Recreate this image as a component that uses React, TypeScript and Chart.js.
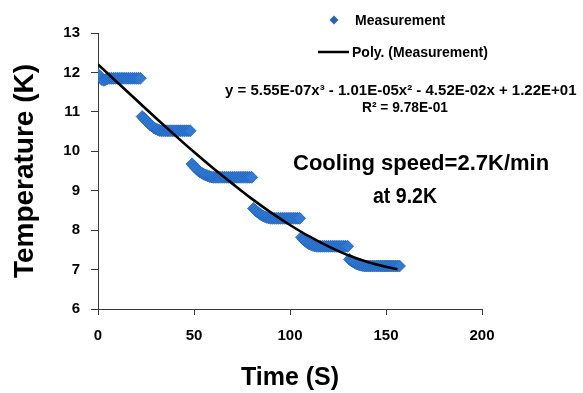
import React, { useEffect, useRef } from "react";
import { Chart, registerables } from "chart.js";

Chart.register(...registerables);

// ---- data ----
const timeS = [
  0, 1, 2, 3, 4, 5, 6, 7, 8, 9, 10, 11, 12, 13, 14, 15, 16, 17, 18, 19, 20, 21, 22,
  23, 24, 25, 26, 27, 28, 29, 30, 31, 32, 33, 34, 35, 36, 37, 38, 39, 40, 41, 42, 43, 44, 45, 46, 47, 48,
  49, 50, 51, 52, 53, 54, 55, 56, 57, 58, 59, 60, 61, 62, 63, 64, 65, 66, 67, 68, 69, 70, 71, 72, 73, 74, 75, 76, 77, 78, 79, 80,
  81, 82, 83, 84, 85, 86, 87, 88, 89, 90, 91, 92, 93, 94, 95, 96, 97, 98, 99, 100, 101, 102, 103, 104, 105,
  106, 107, 108, 109, 110, 111, 112, 113, 114, 115, 116, 117, 118, 119, 120, 121, 122, 123, 124, 125, 126, 127, 128, 129, 130,
  131, 132, 133, 134, 135, 136, 137, 138, 139, 140, 141, 142, 143, 144, 145, 146, 147, 148, 149, 150, 151, 152, 153, 154, 155, 156, 157,
];

const temperatureK = [
  11.95, 11.9, 11.82, 11.8, 11.82, 11.84, 11.85, 11.85, 11.85, 11.85, 11.85, 11.85, 11.85, 11.85, 11.85, 11.85, 11.85, 11.85, 11.85, 11.85, 11.85, 11.85, 11.85,
  10.88, 10.83, 10.78, 10.73, 10.68, 10.64, 10.6, 10.57, 10.55, 10.53, 10.52, 10.52, 10.52, 10.52, 10.52, 10.52, 10.52, 10.52, 10.52, 10.52, 10.52, 10.52, 10.52, 10.52, 10.52, 10.52,
  9.68, 9.62, 9.57, 9.52, 9.48, 9.45, 9.42, 9.4, 9.38, 9.36, 9.35, 9.34, 9.34, 9.34, 9.34, 9.34, 9.34, 9.34, 9.34, 9.34, 9.34, 9.34, 9.34, 9.34, 9.34, 9.34, 9.34, 9.34, 9.34, 9.34, 9.34, 9.34,
  8.55, 8.5, 8.46, 8.42, 8.39, 8.36, 8.34, 8.32, 8.31, 8.3, 8.3, 8.3, 8.3, 8.3, 8.3, 8.3, 8.3, 8.3, 8.3, 8.3, 8.3, 8.3, 8.3, 8.3, 8.3,
  7.82, 7.76, 7.72, 7.68, 7.65, 7.63, 7.61, 7.6, 7.59, 7.59, 7.59, 7.59, 7.59, 7.59, 7.59, 7.59, 7.59, 7.59, 7.59, 7.59, 7.59, 7.59, 7.59, 7.59, 7.59,
  7.26, 7.22, 7.19, 7.16, 7.14, 7.12, 7.11, 7.1, 7.09, 7.09, 7.09, 7.09, 7.09, 7.09, 7.09, 7.09, 7.09, 7.09, 7.09, 7.09, 7.09, 7.09, 7.09, 7.09, 7.09, 7.09, 7.09,
];

// polynomial trendline values (from y = 5.55E-07x^3 - 1.01E-05x^2 - 4.52E-02x + 1.22E+01)
const trendTimeS = [0, 10, 20, 30, 40, 50, 60, 70, 80, 90, 100, 110, 120, 130, 140, 150, 156];
const trendK = [12.2, 11.75, 11.3, 10.85, 10.41, 9.98, 9.57, 9.18, 8.8, 8.45, 8.13, 7.84, 7.59, 7.37, 7.2, 7.07, 7.01];

const xRange = [0, 200];
const xStep = 50;
const yRange = [6, 13];
const yStep = 1;

const seriesNames = ["Measurement", "Poly. (Measurement)"];
const xTitle = "Time (S)";
const yTitle = "Temperature (K)";
const equationText = "y = 5.55E-07x³ - 1.01E-05x² - 4.52E-02x + 1.22E+01";
const r2Text = "R² = 9.78E-01";
const noteLines = ["Cooling speed=2.7K/min", "at 9.2K"];

const FONT = "'Liberation Sans', Arial, sans-serif";
const BLUE = "#2F7AD6";
const BLUE_EDGE = "#2263B8";

const overlayPlugin = {
  id: "overlay",
  afterDraw(chart: any) {
    const ctx = chart.ctx as CanvasRenderingContext2D;
    ctx.save();
    ctx.textAlign = "left";
    ctx.textBaseline = "alphabetic";
    ctx.fillStyle = "#000";

    // legend: measurement diamond
    const dx = 334, dy = 20, r = 4.5;
    ctx.beginPath();
    ctx.moveTo(dx, dy - r);
    ctx.lineTo(dx + r, dy);
    ctx.lineTo(dx, dy + r);
    ctx.lineTo(dx - r, dy);
    ctx.closePath();
    ctx.fillStyle = "#2A62B5";
    ctx.fill();

    ctx.fillStyle = "#000";
    ctx.font = `bold 14px ${FONT}`;
    ctx.fillText(seriesNames[0], 355, 25, 97);

    // legend: trend line
    ctx.strokeStyle = "#000";
    ctx.lineWidth = 2.5;
    ctx.beginPath();
    ctx.moveTo(318, 52);
    ctx.lineTo(349, 52);
    ctx.stroke();
    ctx.fillText(seriesNames[1], 352, 57, 138);

    // equation and R2
    ctx.font = `bold 15px ${FONT}`;
    ctx.fillText(equationText, 225, 95, 355);
    ctx.textAlign = "center";
    ctx.fillText(r2Text, 405, 112, 86);

    // note
    ctx.textAlign = "left";
    ctx.font = `bold 22px ${FONT}`;
    ctx.fillText(noteLines[0], 293, 170, 261);
    ctx.fillText(noteLines[1], 373, 203, 64);

    ctx.restore();
  },
};

export default function App() {
  const canvasRef = useRef<HTMLCanvasElement | null>(null);

  useEffect(() => {
    const canvas = canvasRef.current;
    if (!canvas) return;
    const measurement = timeS.map((t, i) => ({ x: t, y: temperatureK[i] }));
    const trend = trendTimeS.map((t, i) => ({ x: t, y: trendK[i] }));

    const chart = new Chart(canvas, {
      type: "scatter",
      data: {
        datasets: [
          {
            label: seriesNames[1],
            data: trend,
            showLine: true,
            borderColor: "#000",
            borderWidth: 2.6,
            pointRadius: 0,
            cubicInterpolationMode: "monotone",
            order: 0,
          } as any,
          {
            label: seriesNames[0],
            data: measurement,
            pointStyle: "rectRot",
            pointRadius: 6,
            backgroundColor: BLUE,
            borderColor: BLUE_EDGE,
            borderWidth: 0.8,
            order: 1,
          } as any,
        ],
      },
      options: {
        responsive: false,
        animation: false,
        devicePixelRatio: 1,
        layout: { padding: { top: 33, right: 101, left: 0, bottom: 0 } },
        plugins: {
          legend: { display: false },
          tooltip: { enabled: false },
        },
        scales: {
          x: {
            type: "linear",
            min: xRange[0],
            max: xRange[1],
            afterFit: (s: any) => {
              s.height = 84;
            },
            ticks: {
              stepSize: xStep,
              color: "#000",
              font: { family: FONT, size: 15, weight: "bold" },
              padding: 12,
            },
            grid: {
              display: true,
              drawOnChartArea: false,
              drawTicks: true,
              tickLength: 6,
              color: "#3a3a3a",
            },
            border: { display: true, color: "#3a3a3a", width: 1 },
            title: {
              display: true,
              text: xTitle,
              color: "#000",
              font: { family: FONT, size: 25, weight: "bold" },
              padding: { top: 0, bottom: 0 },
            },
          },
          y: {
            type: "linear",
            min: yRange[0],
            max: yRange[1],
            afterFit: (s: any) => {
              s.width = 98;
            },
            ticks: {
              stepSize: yStep,
              color: "#000",
              font: { family: FONT, size: 15, weight: "bold" },
              padding: 11,
            },
            grid: {
              display: true,
              drawOnChartArea: false,
              drawTicks: true,
              tickLength: 7,
              color: "#3a3a3a",
            },
            border: { display: true, color: "#3a3a3a", width: 1 },
            title: {
              display: true,
              text: yTitle,
              color: "#000",
              font: { family: FONT, size: 28, weight: "bold" },
              padding: { top: 8, bottom: 0 },
            },
          },
        },
      },
      plugins: [overlayPlugin],
    });
    return () => chart.destroy();
  }, []);

  return (
    <div style={{ position: "absolute", left: 0, top: 0, width: 583, height: 393, background: "#fff" }}>
      <canvas ref={canvasRef} width={583} height={393} style={{ display: "block" }} />
    </div>
  );
}
